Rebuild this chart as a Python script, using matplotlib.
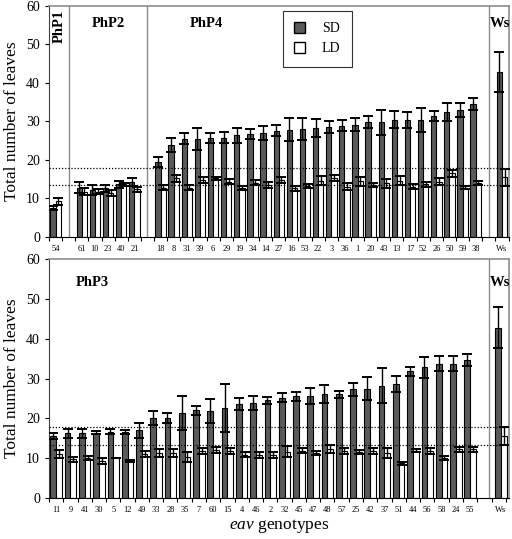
import matplotlib
matplotlib.use("Agg")
import matplotlib.pyplot as plt
from matplotlib.patches import Patch
import numpy as np

plt.rcParams['font.family'] = ['Liberation Serif', 'DejaVu Serif']
plt.rcParams['mathtext.fontset'] = 'custom'
plt.rcParams['mathtext.rm'] = 'Liberation Serif'
plt.rcParams['mathtext.it'] = 'Liberation Serif:italic'

# top panel (PhP1, PhP2, PhP4, Ws)
top_labels = ['54',
              '61', '10', '23', '40', '21',
              '18', '8', '31', '39', '6', '29', '19', '34', '14', '27', '16', '53', '22',
              '3', '36', '1', '20', '43', '13', '17', '52', '26', '50', '59', '38',
              'Ws']
top_pos = [0, 2, 3, 4, 5, 6] + list(range(8, 33)) + [34]
top_sd = [7.6, 12.8, 12.2, 12.6, 13.7, 14.3,
          19.6, 23.9, 25.5, 25.5, 25.6, 25.8, 26.4, 26.7, 27.0, 27.6, 27.9, 28.0, 28.3,
          28.6, 28.9, 29.2, 29.8, 29.8, 30.4, 30.3, 30.4, 31.4, 32.4, 33.0, 34.6,
          42.8]
top_sd_err = [0.5, 1.5, 1.3, 0.9, 0.9, 1.1,
              1.3, 1.7, 1.4, 2.9, 1.3, 1.5, 2.0, 1.3, 1.7, 1.4, 2.9, 2.8, 2.3,
              1.5, 1.4, 1.6, 1.5, 3.2, 2.2, 2.1, 3.0, 1.3, 2.3, 1.9, 1.6,
              5.2]
top_ld = [9.3, 11.8, 11.8, 11.4, 13.7, 12.4,
          12.8, 15.2, 12.8, 14.8, 15.2, 14.4, 12.8, 14.1, 13.5, 14.8, 12.6, 13.2, 14.6,
          15.4, 13.1, 14.5, 13.5, 13.9, 14.6, 13.1, 13.7, 14.4, 16.5, 12.8, 14.1,
          15.5]
top_ld_err = [0.9, 0.8, 0.6, 0.7, 0.4, 0.6,
              0.7, 0.8, 0.6, 0.9, 0.5, 0.6, 0.5, 0.6, 0.9, 0.8, 0.6, 0.6, 1.2,
              0.8, 0.8, 1.2, 0.6, 1.1, 1.2, 0.6, 0.7, 0.9, 0.9, 0.4, 0.5,
              2.2]

# bottom panel (PhP3, Ws)
bot_labels = ['11', '9', '41', '30', '5', '12', '49', '33', '28', '35', '7', '60', '15',
              '4', '46', '2', '32', '45', '47', '48', '57', '25', '42', '37', '51', '44',
              '56', '58', '24', '55', 'Ws']
bot_pos = list(range(30)) + [31.15]
bot_sd = [15.6, 16.2, 16.2, 16.4, 16.6, 16.5, 17.0, 20.0, 20.1, 21.3, 22.0, 21.8, 22.6,
          23.6, 23.8, 24.5, 25.2, 25.5, 25.6, 26.1, 26.1, 27.3, 27.4, 28.2, 28.7, 31.8,
          32.8, 33.7, 33.8, 34.7, 42.8]
bot_sd_err = [0.8, 1.2, 1.2, 0.4, 0.6, 0.5, 1.9, 1.8, 1.3, 4.2, 1.2, 3.0, 6.0,
              1.4, 1.7, 0.8, 1.2, 1.2, 2.0, 2.3, 0.9, 1.6, 2.9, 4.4, 2.0, 1.1,
              2.6, 1.9, 2.0, 1.5, 5.2]
bot_ld = [11.1, 9.7, 10.0, 9.2, 10.1, 9.2, 11.0, 11.2, 11.2, 10.3, 11.8, 12.0, 11.8,
          10.8, 10.8, 10.8, 11.6, 11.8, 11.2, 12.2, 11.8, 11.6, 11.8, 11.3, 8.7, 11.8,
          11.8, 10.1, 12.2, 12.2, 15.5]
bot_ld_err = [1.0, 0.6, 0.6, 0.8, 0.0, 0.3, 0.7, 1.0, 1.0, 1.2, 0.7, 0.8, 0.8,
              0.6, 0.7, 0.7, 1.3, 0.6, 0.5, 1.0, 0.7, 0.5, 0.7, 1.2, 0.4, 0.4,
              0.7, 0.5, 0.6, 0.6, 2.2]

# Ws LD range (dotted reference lines)
ref_lines = [17.8, 13.4]

SD_COLOR = '#5a5a5a'
W = 0.4


def draw_panel(ax, pos, labels, sd, sd_err, ld, ld_err, xlim, seps):
    pos = np.array(pos, dtype=float)
    ax.bar(pos - W / 2, sd, W, color=SD_COLOR, edgecolor='black', linewidth=0.8, zorder=2)
    ax.bar(pos + W / 2, ld, W, color='white', edgecolor='black', linewidth=0.8, zorder=2)
    ax.errorbar(pos - W / 2, sd, yerr=sd_err, fmt='none', ecolor='black',
                elinewidth=1.0, capsize=3.8, capthick=1.4, zorder=3)
    ax.errorbar(pos + W / 2, ld, yerr=ld_err, fmt='none', ecolor='black',
                elinewidth=1.0, capsize=3.8, capthick=1.4, zorder=3)
    for y in ref_lines:
        ax.axhline(y, color='black', linestyle=(0, (1, 1.5)), linewidth=0.9, zorder=4)
    for s in seps:
        ax.axvline(s, color='#8c8c8c', linewidth=1.0, zorder=1)
    ax.set_xlim(xlim)
    ax.set_ylim(0, 60)
    ax.set_yticks(range(0, 61, 10))
    ax.set_xticks(pos)
    ax.set_xticklabels(labels, fontsize=6)
    ax.tick_params(axis='x', which='major', length=0, pad=6)
    ax.set_xticks(np.arange(np.floor(xlim[0]) + 0.5, xlim[1], 1.0), minor=True)
    ax.tick_params(axis='x', which='minor', length=3, width=0.8)
    ax.tick_params(axis='y', labelsize=10, length=3, width=0.8)
    for s in ['top', 'right']:
        ax.spines[s].set_color('#8c8c8c')
        ax.spines[s].set_linewidth(1.2)
    ax.spines['left'].set_color('#404040')
    ax.spines['bottom'].set_color('black')
    ax.set_ylabel('Total number of leaves', fontsize=12.5)
    ax.yaxis.set_label_coords(-0.064, 0.5)


fig = plt.figure(figsize=(5.12, 5.39), dpi=100)
ax1 = fig.add_axes([0.0957, 0.5603, 0.8983, 0.4286])
ax2 = fig.add_axes([0.0957, 0.0766, 0.8983, 0.4420])

draw_panel(ax1, top_pos, top_labels, top_sd, top_sd_err, top_ld, top_ld_err,
           (-0.38, 34.53), [1, 7, 33])
draw_panel(ax2, bot_pos, bot_labels, bot_sd, bot_sd_err, bot_ld, bot_ld_err,
           (-0.37, 31.72), [30.3])

ax1.text(0.3, 59, 'PhP1', rotation=90, fontsize=10.5, fontweight='bold',
         ha='center', va='top')
ax1.text(4, 55.5, 'PhP2', fontsize=10.5, fontweight='bold', ha='center', va='center')
ax1.text(11.5, 55.5, 'PhP4', fontsize=10.5, fontweight='bold', ha='center', va='center')
ax1.text(33.1, 55.5, 'Ws', fontsize=10.5, fontweight='bold', ha='left', va='center')

ax2.text(2.5, 54.3, 'PhP3', fontsize=10.5, fontweight='bold', ha='center', va='center')
ax2.text(30.4, 54.3, 'Ws', fontsize=10.5, fontweight='bold', ha='left', va='center')

handles = [Patch(facecolor=SD_COLOR, edgecolor='black', label='SD'),
           Patch(facecolor='white', edgecolor='black', label='LD')]
leg = ax1.legend(handles=handles, loc='upper left', bbox_to_anchor=(0.509, 0.978),
                 fontsize=10, frameon=True, fancybox=False, handlelength=0.8,
                 handleheight=0.8, borderpad=0.8, labelspacing=0.5,
                 handletextpad=1.2, borderaxespad=0)
leg.get_frame().set_edgecolor('black')
leg.get_frame().set_linewidth(0.8)

ax2.set_xlabel(r'$\mathit{eav}$ genotypes', fontsize=12.5, labelpad=2)

fig.savefig('out.png', dpi=100)
